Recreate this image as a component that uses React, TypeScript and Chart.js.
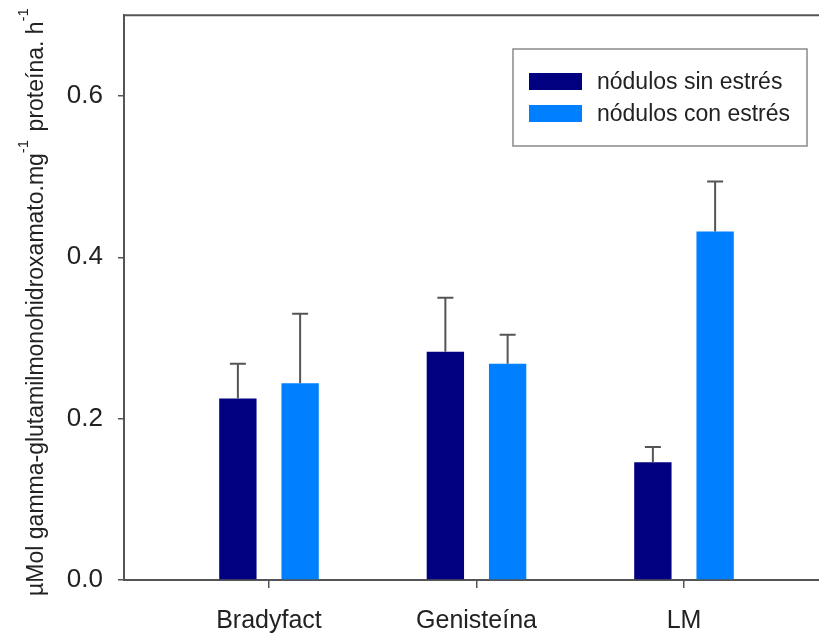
import React, { useEffect, useRef } from "react";
import { Chart, registerables } from "chart.js";

Chart.register(...registerables);

const categories = ["Bradyfact", "Genisteína", "LM"];
const categoryPositions = [1, 2, 3];
const seriesLabels = ["nódulos sin estrés", "nódulos con estrés"];
const sinEstres = [0.225, 0.283, 0.146];
const sinEstresErr = [0.043, 0.067, 0.019];
const conEstres = [0.244, 0.268, 0.432];
const conEstresErr = [0.086, 0.036, 0.062];
const yTicks = [0, 0.2, 0.4, 0.6];
const yTitleMain = "µMol gamma-glutamilmonohidroxamato.mg";
const yTitleMid = " proteína. h";
const yTitleSup = "-1";

const FONT = "'Liberation Sans', Arial, Helvetica, sans-serif";
const AXIS_COLOR = "#555555";
const COLORS = ["#000080", "#0080FF"];
const ERRORS = [sinEstresErr, conEstresErr];

const errorBarPlugin = {
  id: "errorBars",
  afterDatasetsDraw(chart: any) {
    const ctx = chart.ctx;
    const yScale = chart.scales.y;
    ctx.save();
    ctx.strokeStyle = "#555555";
    ctx.lineWidth = 2;
    chart.data.datasets.forEach((ds: any, di: number) => {
      const meta = chart.getDatasetMeta(di);
      meta.data.forEach((el: any, i: number) => {
        const v = ds.data[i].y;
        const top = yScale.getPixelForValue(v + ERRORS[di][i]);
        ctx.beginPath();
        ctx.moveTo(el.x, el.y);
        ctx.lineTo(el.x, top);
        ctx.moveTo(el.x - 8, top);
        ctx.lineTo(el.x + 8, top);
        ctx.stroke();
      });
    });
    ctx.restore();
  },
};

const framePlugin = {
  id: "frameTop",
  afterDraw(chart: any) {
    const { ctx, chartArea } = chart;
    ctx.save();
    ctx.strokeStyle = AXIS_COLOR;
    ctx.lineWidth = 2;
    ctx.beginPath();
    ctx.moveTo(chartArea.left - 1, chartArea.top);
    ctx.lineTo(chartArea.right, chartArea.top);
    ctx.stroke();
    ctx.restore();
  },
};

const legendPlugin = {
  id: "boxLegend",
  afterDraw(chart: any) {
    const ctx = chart.ctx;
    const bx = 513, by = 49, bw = 294, bh = 97;
    ctx.save();
    ctx.fillStyle = "#ffffff";
    ctx.fillRect(bx, by, bw, bh);
    ctx.strokeStyle = "#8a8a8a";
    ctx.lineWidth = 1.5;
    ctx.strokeRect(bx, by, bw, bh);
    ctx.font = `23px ${FONT}`;
    ctx.textBaseline = "middle";
    ctx.textAlign = "left";
    chart.data.datasets.forEach((ds: any, i: number) => {
      const cy = 81.5 + i * 32;
      ctx.fillStyle = ds.backgroundColor;
      ctx.fillRect(529, cy - 8.5, 53, 17);
      ctx.fillStyle = "#222222";
      ctx.fillText(ds.label, 597, cy + 1);
    });
    ctx.restore();
  },
};

const yTitlePlugin = {
  id: "yTitle",
  afterDraw(chart: any) {
    const ctx = chart.ctx;
    const mainFont = `23px ${FONT}`;
    const supFont = `15px ${FONT}`;
    ctx.save();
    ctx.font = mainFont;
    const w1 = ctx.measureText(yTitleMain).width;
    const w3 = ctx.measureText(yTitleMid).width;
    ctx.font = supFont;
    const w2 = ctx.measureText(yTitleSup).width;
    const total = w1 + w2 + w3 + w2 + 2;
    ctx.translate(43, 302);
    ctx.rotate(-Math.PI / 2);
    ctx.fillStyle = "#222222";
    ctx.textBaseline = "alphabetic";
    ctx.textAlign = "left";
    let u = -total / 2;
    ctx.font = mainFont;
    ctx.fillText(yTitleMain, u, 0);
    u += w1;
    ctx.font = supFont;
    ctx.fillText(yTitleSup, u, -15);
    u += w2 + 2;
    ctx.font = mainFont;
    ctx.fillText(yTitleMid, u, 0);
    u += w3;
    ctx.font = supFont;
    ctx.fillText(yTitleSup, u, -15);
    ctx.restore();
  },
};

export default function App() {
  const canvasRef = useRef<HTMLCanvasElement | null>(null);

  useEffect(() => {
    const canvas = canvasRef.current;
    if (!canvas) return;
    const pxPerCat = 207.5;
    const xMin = 1 - 145 / pxPerCat;
    const xMax = xMin + 695 / pxPerCat;
    const chart = new Chart(canvas, {
      type: "bar",
      data: {
        datasets: [
          {
            label: seriesLabels[0],
            data: categoryPositions.map((x, i) => ({ x, y: sinEstres[i] })),
            backgroundColor: COLORS[0],
            borderWidth: 0,
          },
          {
            label: seriesLabels[1],
            data: categoryPositions.map((x, i) => ({ x, y: conEstres[i] })),
            backgroundColor: COLORS[1],
            borderWidth: 0,
          },
        ],
      },
      options: {
        animation: false,
        responsive: false,
        devicePixelRatio: 1,
        barPercentage: 0.6,
        categoryPercentage: 0.6,
        layout: { padding: { top: 0, right: 0, left: 0, bottom: 0 } },
        plugins: {
          legend: { display: false },
          tooltip: { enabled: false },
          title: { display: false },
        },
        scales: {
          x: {
            type: "linear",
            min: xMin,
            max: xMax,
            offset: false,
            afterBuildTicks: (axis: any) => {
              axis.ticks = categoryPositions.map((v) => ({ value: v }));
            },
            afterFit: (axis: any) => {
              axis.height = 54;
            },
            grid: {
              display: true,
              offset: false,
              drawOnChartArea: false,
              drawTicks: true,
              tickLength: 8,
              color: AXIS_COLOR,
              lineWidth: 1.5,
            },
            border: { display: true, color: AXIS_COLOR, width: 2 },
            ticks: {
              autoSkip: false,
              maxRotation: 0,
              padding: 18,
              color: "#222222",
              font: { family: FONT, size: 25 },
              callback: (value: any) => {
                const idx = categoryPositions.indexOf(Number(value));
                return idx >= 0 ? categories[idx] : "";
              },
            },
          },
          y: {
            type: "linear",
            min: 0,
            max: 0.7,
            afterBuildTicks: (axis: any) => {
              axis.ticks = yTicks.map((v) => ({ value: v }));
            },
            afterFit: (axis: any) => {
              axis.width = 124;
            },
            grid: {
              display: true,
              drawOnChartArea: false,
              drawTicks: true,
              tickLength: 6,
              color: AXIS_COLOR,
              lineWidth: 1.5,
            },
            border: { display: true, color: AXIS_COLOR, width: 2 },
            ticks: {
              padding: 15,
              color: "#222222",
              font: { family: FONT, size: 26, lineHeight: 0.02 },
              callback: (value: any) => Number(value).toFixed(1),
            },
          },
        },
      },
      plugins: [errorBarPlugin, framePlugin, legendPlugin, yTitlePlugin],
    } as any);
    return () => {
      chart.destroy();
    };
  }, []);

  return (
    <div
      style={{
        position: "fixed",
        left: 0,
        top: 0,
        width: 819,
        height: 634,
        background: "#ffffff",
      }}
    >
      <canvas ref={canvasRef} width={819} height={634} />
    </div>
  );
}
